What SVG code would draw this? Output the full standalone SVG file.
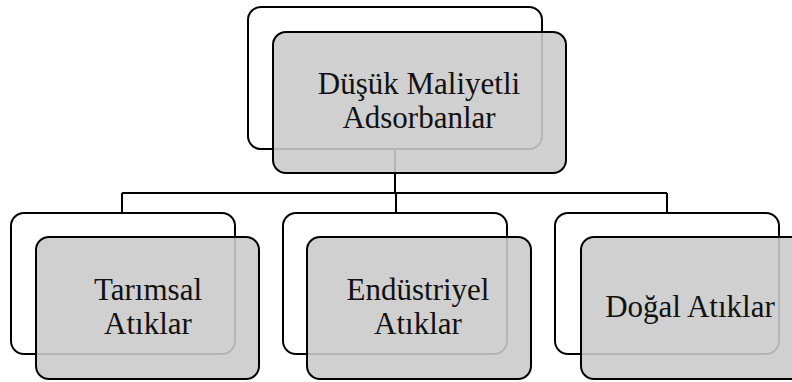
<svg xmlns="http://www.w3.org/2000/svg" width="792" height="382" viewBox="0 0 792 382">
<style>
.back{fill:#ffffff;stroke:#000000;stroke-width:2}
.front{fill:#cacaca;fill-opacity:0.89;stroke:#000000;stroke-width:2}
.conn{fill:none;stroke:#000000;stroke-width:2}
text{font-family:"Liberation Serif","Times New Roman",serif;font-size:31px;fill:#111111;text-anchor:middle}
</style>
<rect width="792" height="382" fill="#ffffff"/>
<g id="root-back"><rect class="back" x="248" y="7" width="294" height="142" rx="13"/></g>
<g id="n1-back"><rect class="back" x="11" y="213" width="224" height="141" rx="13"/></g>
<g id="n2-back"><rect class="back" x="283" y="213" width="224" height="141" rx="13"/></g>
<g id="n3-back"><rect class="back" x="555" y="213" width="224" height="141" rx="13"/></g>
<g id="connectors">
<path class="conn" d="M395 149 V193 M122 193 H667 M122 193 V213 M396 193 V213 M667 193 V213"/>
</g>
<g id="root">
<rect class="front" x="273" y="32" width="293" height="141" rx="13"/>
<text x="419" y="94">Düşük Maliyetli</text>
<text x="419" y="128">Adsorbanlar</text>
</g>
<g id="n1">
<rect class="front" x="36" y="237" width="223" height="142" rx="13"/>
<text x="148" y="300">Tarımsal</text>
<text x="148" y="334">Atıklar</text>
</g>
<g id="n2">
<rect class="front" x="307" y="237" width="224" height="142" rx="13"/>
<text x="418" y="300">Endüstriyel</text>
<text x="418" y="334">Atıklar</text>
</g>
<g id="n3">
<rect class="front" x="581" y="237" width="224" height="142" rx="13"/>
<text x="690" y="317">Doğal Atıklar</text>
</g>
</svg>
